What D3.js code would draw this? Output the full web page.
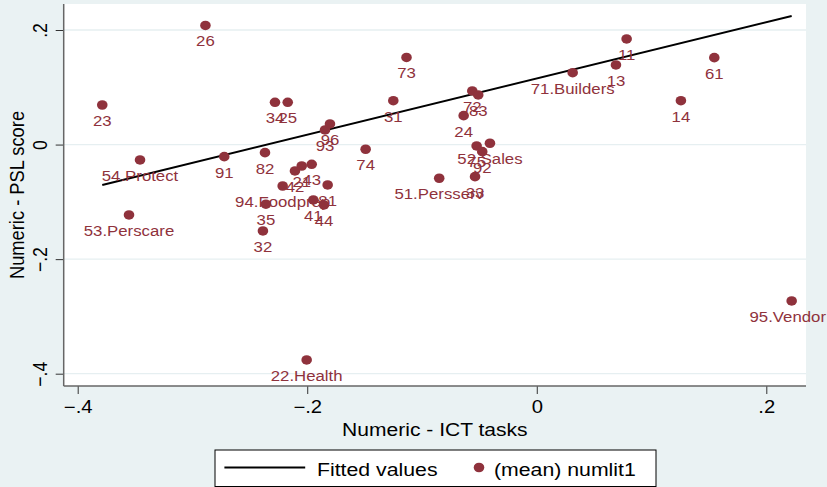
<!DOCTYPE html>
<html>
<head>
<meta charset="utf-8">
<script src="https://cdn.jsdelivr.net/npm/d3@7"></script>
<style>
  body { margin: 0; background: #eaf2f3; }
  svg { display: block; }
  text { font-family: "Liberation Sans", Arial, sans-serif; }
</style>
</head>
<body>
<div id="chart"></div>
<script>
	// data
	var labels = ["11", "13", "14", "21", "22.Health", "23", "24", "25", "26", "31",
		"32", "33", "34", "35", "41", "42", "43", "44", "51.Persserv", "52.Sales",
		"53.Perscare", "54.Protect", "61", "71.Builders", "72", "73", "74", "75", "81", "82",
		"83", "91", "92", "93", "94.Foodprep", "95.Vendor", "96"];
	var ictTasks = [0.0783, 0.0690, 0.1256, -0.2048, -0.2005, -0.3786, -0.0637, -0.2170, -0.2887, -0.1250,
		-0.2386, -0.0538, -0.2281, -0.2360, -0.1947, -0.2107, -0.1961, -0.1854, -0.0850, -0.0408,
		-0.3553, -0.3457, 0.1547, 0.0313, -0.0562, -0.1135, -0.1491, -0.0524, -0.1822, -0.2368,
		-0.0510, -0.2723, -0.0475, -0.1845, -0.2214, 0.2221, -0.1802];
	var pslScore = [0.1844, 0.1390, 0.0766, -0.0374, -0.3760, 0.0691, 0.0505, 0.0738, 0.2079, 0.0766,
		-0.1508, -0.0560, 0.0738, -0.1041, -0.0967, -0.0461, -0.0344, -0.1054, -0.0588, 0.0023,
		-0.1229, -0.0269, 0.1517, 0.1255, 0.0936, 0.1521, -0.0082, -0.0024, -0.0705, -0.0141,
		0.0866, -0.0211, -0.0124, 0.0255, -0.0723, -0.2730, 0.0360];

	// fitted values (end points of the line)
	var fitX = [-0.3786, 0.2221];
	var fitY = [-0.0705, 0.2245];

	var xTicks = [-0.4, -0.2, 0, 0.2];
	var yTicks = [-0.4, -0.2, 0, 0.2];
	var legendLabels = ["Fitted values", "(mean) numlit1"];

	// sizes
	var width = 827, height = 487;
	var plot = { left: 63.7, right: 806, top: 4, bottom: 386 };
	var sx = 1.15;   // text in the reference is a bit wide
	var dotColor = "#8f323c";

	var svg = d3.select("#chart")
		.append("svg")
			.attr("width", width)
			.attr("height", height);

	svg.append("rect")
		.attr("width", width)
		.attr("height", height)
		.attr("fill", "#eaf2f3");

	// plot region
	svg.append("rect")
		.attr("x", plot.left)
		.attr("y", plot.top)
		.attr("width", plot.right - plot.left)
		.attr("height", plot.bottom - plot.top)
		.attr("fill", "#ffffff");

	var x = d3.scaleLinear()
		.domain([-0.4, 0.2])
		.range([77.7, 766.3]);
	var y = d3.scaleLinear()
		.domain([-0.4, 0.2])
		.range([373.7, 30]);

	var fmt = function(d) {
		if (d === 0) return "0";
		return d3.format(".1f")(d).replace("0.", ".");
	};

	// grid lines
	svg.append("g")
		.selectAll("line")
		.data(yTicks)
		.enter().append("line")
			.attr("x1", plot.left)
			.attr("x2", plot.right)
			.attr("y1", function(d) { return y(d); })
			.attr("y2", function(d) { return y(d); })
			.attr("stroke", "#e6eff1")
			.attr("stroke-width", 1.3);

	// x axis
	var xAxis = svg.append("g")
		.attr("transform", "translate(0," + plot.bottom + ")")
		.call(d3.axisBottom(x).tickValues(xTicks).tickSize(8).tickFormat(fmt));
	xAxis.select(".domain").remove();
	xAxis.selectAll(".tick line").attr("stroke", "#333");
	xAxis.selectAll(".tick text")
		.attr("y", 0)
		.attr("dy", null)
		.attr("transform", "translate(0,27) scale(" + sx + ",1)")
		.attr("font-size", "17.6px")
		.attr("fill", "#000");

	// y axis
	var yAxis = svg.append("g")
		.attr("transform", "translate(" + plot.left + ",0)")
		.call(d3.axisLeft(y).tickValues(yTicks).tickSize(8).tickFormat(fmt));
	yAxis.select(".domain").remove();
	yAxis.selectAll(".tick line").attr("stroke", "#333");
	yAxis.selectAll(".tick text")
		.attr("x", 0)
		.attr("dy", null)
		.attr("text-anchor", "middle")
		.attr("transform", "translate(-17,0) scale(" + sx + ",1) rotate(-90)")
		.attr("font-size", "17.6px")
		.attr("fill", "#000");

	// axis lines
	svg.append("line")
		.attr("x1", plot.left).attr("x2", plot.left)
		.attr("y1", plot.top).attr("y2", plot.bottom)
		.attr("stroke", "#666").attr("stroke-width", 1.5);
	svg.append("line")
		.attr("x1", plot.left).attr("x2", plot.right)
		.attr("y1", plot.bottom).attr("y2", plot.bottom)
		.attr("stroke", "#666").attr("stroke-width", 1.5);

	// axis titles
	svg.append("text")
		.attr("transform", "translate(" + ((plot.left + plot.right) / 2) + ",436) scale(" + sx + ",1)")
		.attr("text-anchor", "middle")
		.attr("font-size", "18.3px")
		.text("Numeric - ICT tasks");
	svg.append("text")
		.attr("transform", "translate(24," + ((plot.top + plot.bottom) / 2) + ") scale(" + sx + ",1) rotate(-90)")
		.attr("text-anchor", "middle")
		.attr("font-size", "18.3px")
		.text("Numeric - PSL score");

	// fitted line
	var fitLine = d3.line()
		.x(function(d) { return x(d[0]); })
		.y(function(d) { return y(d[1]); });
	svg.append("path")
		.datum(d3.zip(fitX, fitY))
		.attr("d", fitLine)
		.attr("fill", "none")
		.attr("stroke", "#000")
		.attr("stroke-width", 2);

	// points
	var rows = labels.map(function(l, i) {
		return { label: l, ict: ictTasks[i], psl: pslScore[i] };
	});

	svg.append("g")
		.selectAll("ellipse")
		.data(rows)
		.enter().append("ellipse")
			.attr("cx", function(d) { return x(d.ict); })
			.attr("cy", function(d) { return y(d.psl); })
			.attr("rx", 5.3)
			.attr("ry", 4.8)
			.attr("fill", dotColor);

	// marker labels, kept inside the window
	svg.append("g")
		.selectAll("text")
		.data(rows)
		.enter().append("text")
			.attr("text-anchor", "middle")
			.attr("font-size", "14.6px")
			.attr("fill", dotColor)
			.text(function(d) { return d.label; })
			.attr("transform", function(d) {
				var half = this.getComputedTextLength() * sx / 2;
				var cx = Math.min(x(d.ict), width - half - 1);
				return "translate(" + cx + "," + (y(d.psl) + 21) + ") scale(" + sx + ",1)";
			});

	// legend
	var legend = svg.append("g");
	legend.append("rect")
		.attr("x", 215)
		.attr("y", 450)
		.attr("width", 441)
		.attr("height", 36.5)
		.attr("fill", "#fff")
		.attr("stroke", "#000")
		.attr("stroke-width", 1);
	legend.append("line")
		.attr("x1", 224.4).attr("x2", 305.2)
		.attr("y1", 467.5).attr("y2", 467.5)
		.attr("stroke", "#000").attr("stroke-width", 1.8);
	legend.append("text")
		.attr("transform", "translate(317,476) scale(" + sx + ",1)")
		.attr("font-size", "18.5px")
		.text(legendLabels[0]);
	legend.append("ellipse")
		.attr("cx", 479).attr("cy", 467.5)
		.attr("rx", 5.3).attr("ry", 4.8)
		.attr("fill", dotColor);
	legend.append("text")
		.attr("transform", "translate(494,476) scale(" + sx + ",1)")
		.attr("font-size", "18.5px")
		.text(legendLabels[1]);
</script>
</body>
</html>
